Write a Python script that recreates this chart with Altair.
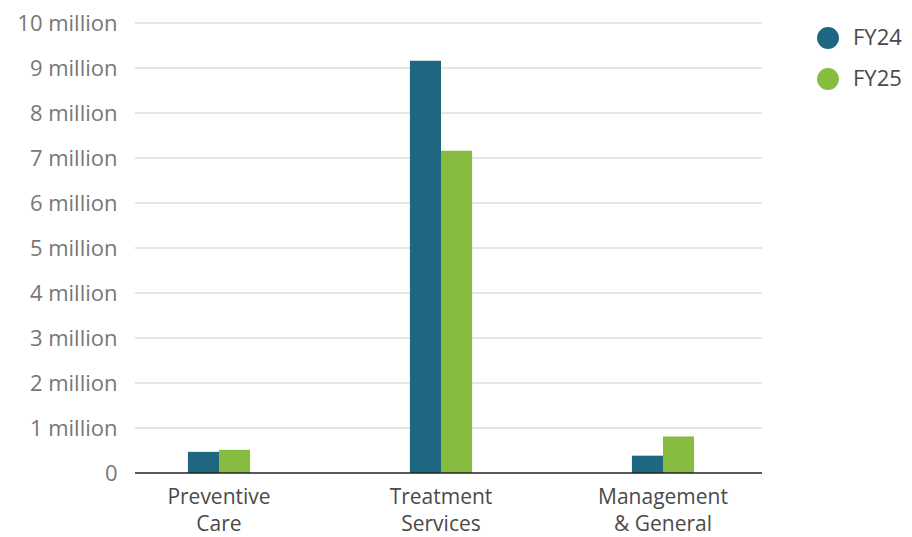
import altair as alt
import pandas as pd

categories = ["Preventive Care", "Treatment Services", "Management & General"]
fy24 = [470000, 9160000, 385000]
fy25 = [515000, 7160000, 810000]
series = ["FY24", "FY25"]
colors = ["#1f6680", "#86bc40"]
tick_values = [0, 1000000, 2000000, 3000000, 4000000, 5000000,
               6000000, 7000000, 8000000, 9000000, 10000000]

rows = []
for c, a, b in zip(categories, fy24, fy25):
    rows.append({"category": c, "year": "FY24", "value": a})
    rows.append({"category": c, "year": "FY25", "value": b})
df = pd.DataFrame(rows)

FONT = "Open Sans"
FS = 21

yscale = alt.Scale(domain=[0, 10000000], nice=False)
yaxis = alt.Axis(values=tick_values, ticks=False, domain=False, grid=False,
                 labelPadding=18, labelFontSize=22, labelColor="#777777", labelFont=FONT,
                 labelExpr="datum.value == 0 ? '0' : (datum.value / 1000000) + ' million'")

grid = alt.Chart(pd.DataFrame({"g": tick_values[1:]})).mark_rule(color="#cccccc", strokeWidth=1).encode(
    y=alt.Y("g:Q", scale=yscale, axis=yaxis, title=None), x=alt.value(0), x2=alt.value(627)
)

bars = alt.Chart(df).mark_bar().encode(
    x=alt.X("category:N", sort=categories, title=None,
            scale=alt.Scale(range=[-27, 639], paddingInner=0.72, paddingOuter=0.36),
            axis=alt.Axis(labelAngle=0, domain=False, ticks=False, labelPadding=13,
                          labelFontSize=FS, labelColor="#4a4a4a", labelFont=FONT,
                          labelLineHeight=27,
                          labelExpr="datum.value == 'Management & General' ? ['Management', '& General'] : split(datum.value, ' ')")),
    xOffset=alt.XOffset("year:N", sort=series, scale=alt.Scale(paddingInner=0, paddingOuter=0)),
    y=alt.Y("value:Q", title=None, scale=yscale, axis=yaxis),
    color=alt.Color("year:N", sort=series,
                    scale=alt.Scale(domain=series, range=colors),
                    legend=alt.Legend(title=None, orient="none", legendX=682, legendY=4,
                                      symbolType="circle", symbolSize=480, symbolStrokeWidth=0,
                                      labelFontSize=22, labelColor="#4a4a4a", labelFont=FONT,
                                      rowPadding=19, labelOffset=14)),
)

baseline = alt.Chart(pd.DataFrame({"y": [0]})).mark_rule(color="#222222", strokeWidth=1.5).encode(
    y=alt.Y("y:Q", scale=yscale, axis=yaxis, title=None), x=alt.value(0), x2=alt.value(627)
)

final = alt.layer(grid, bars, baseline).properties(
    width=627, height=450,
    autosize=alt.AutoSizeParams(type="none"),
    padding={"left": 135, "top": 23, "right": 150, "bottom": 64},
).configure_view(stroke=None)

final.save("out.html", embed_options={"renderer": "svg", "actions": False})
